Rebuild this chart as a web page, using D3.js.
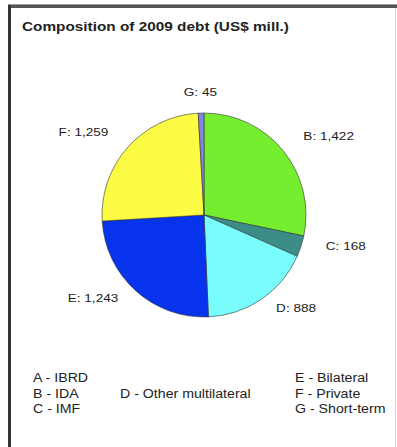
<!DOCTYPE html>
<html>
<head>
<meta charset="utf-8">
<script src="https://cdn.jsdelivr.net/npm/d3@7/dist/d3.min.js"></script>
<style>
  html, body { margin: 0; padding: 0; background: #fff; }
  svg { display: block; }
  text { font-family: "Liberation Sans", Arial, sans-serif; fill: #222; }
</style>
</head>
<body>
<svg id="chart" width="397" height="447"></svg>
<script>
// Composition of 2009 debt, US$ millions
const codes  = ["B", "C", "D", "E", "F", "G"];
const values = [1422, 168, 888, 1243, 1259, 45];
const colors = ["#74ee2e", "#3c8c88", "#78fcfc", "#0833ec", "#fcfc44", "#8484e4"];

const title = "Composition of 2009 debt (US$ mill.)";

// legend laid out in three columns, three rows each
const legendColumns = [
  ["A - IBRD", "B - IDA", "C - IMF"],
  ["", "D - Other multilateral", ""],
  ["E - Bilateral", "F - Private", "G - Short-term"]
];

const W = 397, H = 447;
const svg = d3.select("#chart");

// draw text a little wider than its natural width
function widen(sel, k) {
  sel.each(function () {
    const w = this.getComputedTextLength();
    if (w > 0) {
      d3.select(this)
        .attr("textLength", w * k)
        .attr("lengthAdjust", "spacingAndGlyphs");
    }
  });
}

// frame
svg.append("rect").attr("x", 8).attr("y", 4).attr("width", W - 8).attr("height", 1).attr("fill", "#999");
svg.append("rect").attr("x", 8).attr("y", 5).attr("width", W - 8).attr("height", 3).attr("fill", "#555");
svg.append("rect").attr("x", 8).attr("y", 5).attr("width", 3).attr("height", H - 5).attr("fill", "#333");
svg.append("line").attr("x1", W - 1.5).attr("x2", W - 1.5).attr("y1", 8).attr("y2", H)
  .attr("stroke", "#d4d4d4").attr("stroke-width", 1);

// title
svg.append("text")
  .attr("x", 22).attr("y", 31)
  .attr("font-size", 13).attr("font-weight", "bold")
  .text(title)
  .call(widen, 1.18);

// pie
const cx = 204, cy = 215, r = 102;
const data = codes.map((c, i) => ({ code: c, value: values[i], color: colors[i] }));
const pie = d3.pie().value(d => d.value).sort(null);
const arcs = pie(data);
const arc = d3.arc().innerRadius(0).outerRadius(r);

const g = svg.append("g").attr("transform", `translate(${cx},${cy})`);
g.selectAll("path.slice")
  .data(arcs)
  .join("path")
  .attr("class", "slice")
  .attr("d", arc)
  .attr("fill", d => d.data.color)
  .attr("stroke", "#333")
  .attr("stroke-width", 0.6);

// data labels around the pie
const fmt = d3.format(",");
const Rx = 128, Ry = 118;
g.selectAll("text.lbl")
  .data(arcs)
  .join("text")
  .attr("class", "lbl")
  .attr("font-size", 11.5)
  .each(function (d) {
    const a = (d.startAngle + d.endAngle) / 2;
    const s = Math.sin(a), c = Math.cos(a);
    const x = Rx * s, y = -Ry * c - 5;
    const anchor = s > 0.15 ? "start" : (s < -0.15 ? "end" : "middle");
    d3.select(this)
      .attr("x", x).attr("y", y)
      .attr("dy", "0.35em")
      .attr("text-anchor", anchor);
  })
  .text(d => `${d.data.code}: ${fmt(d.data.value)}`)
  .call(widen, 1.18);

// legend
const colX = [33, 120, 295];
const rowY = [382, 398, 413];
const lg = svg.append("g");
legendColumns.forEach((col, ci) => {
  col.forEach((label, ri) => {
    if (!label) return;
    lg.append("text")
      .attr("x", colX[ci]).attr("y", rowY[ri])
      .attr("font-size", 12)
      .text(label)
      .call(widen, 1.18);
  });
});
</script>
</body>
</html>
